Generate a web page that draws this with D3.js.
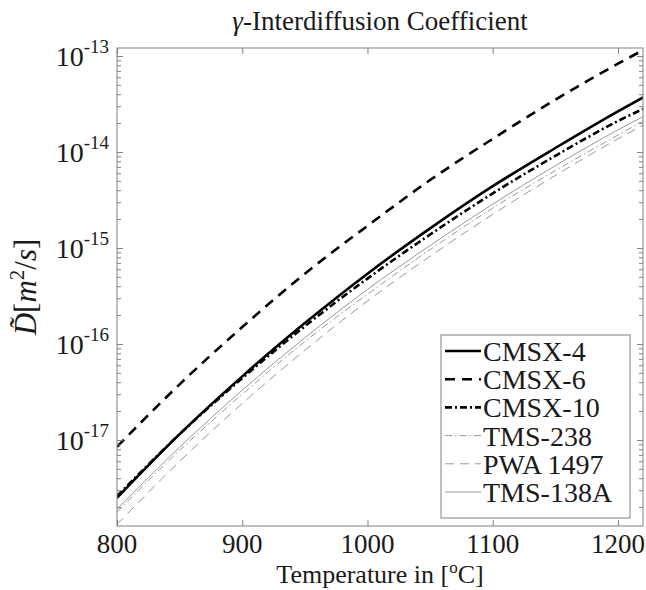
<!DOCTYPE html>
<html>
<head>
<meta charset="utf-8">
<script src="https://cdn.jsdelivr.net/npm/d3@7"></script>
<style>
  body { margin: 0; background: #fff; }
  text { font-family: "Liberation Serif", "DejaVu Serif", serif; fill: #1a1a1a; }
</style>
</head>
<body>
<div id="chart"></div>
<script>
// temperatures (°C) the curves are sampled at
var temps = [800, 850, 900, 950, 1000, 1050, 1100, 1150, 1200, 1220];

// interdiffusion coefficient in m^2/s
var cmsx4   = [2.5e-18, 1.15e-17, 4.6e-17, 1.65e-16, 5.4e-16, 1.6e-15, 4.4e-15, 1.1e-14, 2.65e-14, 3.7e-14];
var cmsx6   = [8.5e-18, 3.8e-17, 1.5e-16, 5.4e-16, 1.7e-15, 5.1e-15, 1.37e-14, 3.5e-14, 8.3e-14, 1.15e-13];
var cmsx10  = [2.6e-18, 1.15e-17, 4.4e-17, 1.53e-16, 4.8e-16, 1.38e-15, 3.7e-15, 9.1e-15, 2.1e-14, 2.8e-14];
var tms238  = [1.78e-18, 7.8e-18, 3.0e-17, 1.06e-16, 3.3e-16, 9.6e-16, 2.6e-15, 6.4e-15, 1.5e-14, 2.1e-14];
var pwa1497 = [1.32e-18, 6.0e-18, 2.4e-17, 8.6e-17, 2.8e-16, 8.2e-16, 2.24e-15, 5.7e-15, 1.37e-14, 1.9e-14];
var tms138a = [1.9e-18, 8.4e-18, 3.3e-17, 1.16e-16, 3.7e-16, 1.06e-15, 2.86e-15, 7.2e-15, 1.7e-14, 2.34e-14];

var names = ["CMSX-4", "CMSX-6", "CMSX-10", "TMS-238", "PWA 1497", "TMS-138A"];
var xTicks = [800, 900, 1000, 1100, 1200];
var yExps = [-13, -14, -15, -16, -17];

// line styles per series
var styles = [
  { color: "#000", width: 2.6, dash: null },
  { color: "#000", width: 2.6, dash: "10,7" },
  { color: "#000", width: 2.6, dash: "7,3,2,3" },
  { color: "#999", width: 1, dash: "7,3,1.5,3" },
  { color: "#999", width: 1, dash: "9,6" },
  { color: "#999", width: 1, dash: null }
];

var series = [cmsx4, cmsx6, cmsx10, tms238, pwa1497, tms138a].map(function (vals, i) {
  return { name: names[i], style: styles[i], values: vals.map(function (v, j) { return { t: temps[j], v: v }; }) };
});

var W = 646, H = 590;
var margin = { top: 48, right: 3, bottom: 64, left: 117 },
    width = W - margin.left - margin.right,
    height = H - margin.top - margin.bottom;

var svg = d3.select("#chart").append("svg")
    .attr("width", W).attr("height", H);

var g = svg.append("g")
    .attr("transform", "translate(" + margin.left + "," + margin.top + ")");

var x = d3.scaleLinear().domain([800, 1220]).range([0, width]);
var y = d3.scaleLog().domain([Math.pow(10, -17.896), Math.pow(10, -12.917)]).range([height, 0]);

// clip for the curves
svg.append("defs").append("clipPath").attr("id", "clip")
  .append("rect").attr("width", width).attr("height", height);

// curves
var line = d3.line()
    .x(function (d) { return x(d.t); })
    .y(function (d) { return y(d.v); })
    .curve(d3.curveMonotoneX);

g.append("g").attr("clip-path", "url(#clip)")
  .selectAll("path")
  .data(series)
  .enter().append("path")
  .attr("d", function (d) { return line(d.values); })
  .attr("fill", "none")
  .attr("stroke", function (d) { return d.style.color; })
  .attr("stroke-width", function (d) { return d.style.width; })
  .attr("stroke-dasharray", function (d) { return d.style.dash; });

// ticks (inward, on all four sides)
var minor = [];
for (var e = -18; e <= -13; e++) {
  for (var k = 2; k <= 9; k++) {
    var v = k * Math.pow(10, e);
    if (v > y.domain()[0] && v < y.domain()[1]) minor.push(v);
  }
}
var major = yExps.map(function (p) { return Math.pow(10, p); });

var axisColor = "#808080";
function styleAxis(sel) {
  sel.select(".domain").remove();
  sel.selectAll("line").attr("stroke", axisColor);
  sel.selectAll("text").remove();
}

g.append("g").call(d3.axisBottom(x).tickValues(xTicks).tickSize(-6))
  .attr("transform", "translate(0," + height + ")").call(styleAxis);
g.append("g").call(d3.axisTop(x).tickValues(xTicks).tickSize(-6)).call(styleAxis);
g.append("g").call(d3.axisLeft(y).tickValues(major).tickSize(-6)).call(styleAxis);
g.append("g").call(d3.axisLeft(y).tickValues(minor).tickSize(-4)).call(styleAxis);
g.append("g").attr("transform", "translate(" + width + ",0)")
  .call(d3.axisRight(y).tickValues(major).tickSize(-6)).call(styleAxis);
g.append("g").attr("transform", "translate(" + width + ",0)")
  .call(d3.axisRight(y).tickValues(minor).tickSize(-4)).call(styleAxis);

// frame
g.append("rect")
  .attr("width", width).attr("height", height)
  .attr("fill", "none").attr("stroke", axisColor).attr("stroke-width", 1);

// x tick labels
g.selectAll(".xlab").data(xTicks).enter().append("text")
  .attr("x", function (d) { return x(d); })
  .attr("y", height + 27)
  .attr("text-anchor", "middle")
  .style("font-size", "27px")
  .text(function (d) { return d; });

// y tick labels: 10^p
var ylab = g.selectAll(".ylab").data(yExps).enter().append("text")
  .attr("x", -8)
  .attr("y", function (d) { return y(Math.pow(10, d)) + 10; })
  .attr("text-anchor", "end")
  .style("font-size", "28px");
ylab.append("tspan").text("10");
ylab.append("tspan").attr("dy", -13).style("font-size", "19px")
  .text(function (d) { return d; });

// title
svg.append("text")
  .attr("x", margin.left + width / 2).attr("y", 30)
  .attr("text-anchor", "middle")
  .style("font-size", "27px")
  .html('<tspan font-style="italic">γ</tspan>-Interdiffusion Coefficient');

// x axis label
var xl = svg.append("text")
  .attr("x", margin.left + width / 2).attr("y", 583)
  .attr("text-anchor", "middle")
  .style("font-size", "26px");
xl.append("tspan").text("Temperature in [");
xl.append("tspan").attr("dy", -10).style("font-size", "17px").text("o");
xl.append("tspan").attr("dy", 10).text("C]");

// y axis label
var yl = svg.append("text")
  .attr("transform", "translate(36," + (margin.top + height / 2) + ") rotate(-90)")
  .attr("text-anchor", "middle")
  .style("font-size", "31px");
yl.append("tspan").style("font-style", "italic").text("D\u0303");
yl.append("tspan").text("[");
yl.append("tspan").style("font-style", "italic").text("m");
yl.append("tspan").attr("dy", -12).style("font-size", "21px").text("2");
yl.append("tspan").attr("dy", 12).text("/");
yl.append("tspan").style("font-style", "italic").text("s");
yl.append("tspan").text("]");

// legend
var lx = 441, ly = 335, lw = 189, rowH = 28.2;
var leg = svg.append("g");
leg.append("rect")
  .attr("x", lx).attr("y", ly)
  .attr("width", lw).attr("height", 183)
  .attr("fill", "#fff").attr("stroke", axisColor).attr("stroke-width", 1);

var row = leg.selectAll(".row").data(series).enter().append("g")
  .attr("transform", function (d, i) { return "translate(" + lx + "," + (ly + 16 + i * rowH) + ")"; });
row.append("line")
  .attr("x1", 4).attr("x2", 40).attr("y1", 0).attr("y2", 0)
  .attr("stroke", function (d) { return d.style.color; })
  .attr("stroke-width", function (d) { return d.style.width; })
  .attr("stroke-dasharray", function (d) { return d.style.dash; });
row.append("text")
  .attr("x", 42).attr("y", 10)
  .style("font-size", "28px")
  .text(function (d) { return d.name; });
</script>
</body>
</html>
